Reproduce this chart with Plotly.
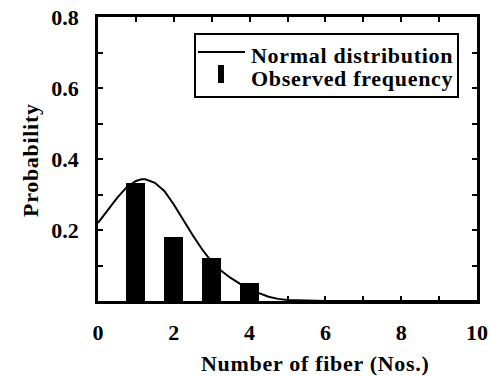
import plotly.graph_objects as go

# Observed frequency (bars)
bar_x = [1, 2, 3, 4]
bar_y = [0.333, 0.179, 0.120, 0.050]

# Normal distribution curve
curve_x = [0, 0.25, 0.5, 0.75, 1.0, 1.15, 1.25, 1.5, 1.75, 2.0, 2.25, 2.5, 2.75,
           3.0, 3.25, 3.5, 3.75, 4.0, 4.25, 4.5, 4.75, 5.0, 5.5, 6.0, 7.0, 8.0, 9.0, 10.0]
curve_y = [0.220, 0.255, 0.290, 0.320, 0.338, 0.343, 0.343, 0.333, 0.310, 0.272, 0.228,
           0.185, 0.145, 0.110, 0.085, 0.065, 0.048, 0.034, 0.022, 0.012, 0.006, 0.003,
           0.001, 0.0, 0.0, 0.0, 0.0, 0.0]

x_ticks = [0, 2, 4, 6, 8, 10]
y_ticks = [0.2, 0.4, 0.6, 0.8]

legend_names = ["Normal distribution", "Observed frequency"]
x_title = "Number of fiber (Nos.)"
y_title = "Probability"

FONT = "Liberation Serif"


def spaced(t, px=0.7):
    return f'<span style="letter-spacing:{px}px">{t}</span>'


fig = go.Figure()
fig.add_trace(go.Bar(x=bar_x, y=bar_y, width=0.5, marker=dict(color="black", line=dict(width=0)),
                     name=legend_names[1], showlegend=False))
fig.add_trace(go.Scatter(x=curve_x, y=curve_y, mode="lines", line=dict(color="black", width=2),
                         name=legend_names[0], showlegend=False))

axis_common = dict(showgrid=False, zeroline=False, showline=True, linecolor="black", linewidth=2.5,
                   mirror="allticks", ticks="inside", ticklen=5, tickwidth=2, tickcolor="black",
                   automargin=False,
                   tickfont=dict(family=FONT, size=22, color="black", weight="bold"))

fig.update_xaxes(range=[0, 10], tickvals=x_ticks, ticktext=[str(v) for v in x_ticks],
                 minor=dict(dtick=1, ticks="inside", ticklen=5, tickwidth=2, tickcolor="black"),
                 ticklabelstandoff=10, **axis_common)
fig.update_yaxes(range=[0, 0.8], tickvals=y_ticks, ticktext=[f"{v:.1f}" for v in y_ticks],
                 minor=dict(dtick=0.1, ticks="inside", ticklen=5, tickwidth=2, tickcolor="black"),
                 ticklabelstandoff=12, **axis_common)

# Legend drawn manually to match the thin-bar symbol
W, H = 379, 284
shapes = [
    dict(type="rect", xref="paper", yref="paper", x0=(195-98)/W, x1=(458-98)/W,
         y0=(301-97)/H, y1=(301-34)/H, line=dict(color="black", width=2)),
    dict(type="line", xref="paper", yref="paper", x0=(198-98)/W, x1=(245-98)/W,
         y0=(301-52)/H, y1=(301-52)/H, line=dict(color="black", width=2)),
    dict(type="rect", xref="paper", yref="paper", x0=(218-98)/W, x1=(224-98)/W,
         y0=(301-83)/H, y1=(301-65)/H, line=dict(width=0), fillcolor="black"),
]
tfont = dict(family=FONT, size=22, color="black", weight="bold")
annotations = [
    dict(text=spaced(legend_names[0]), xref="paper", yref="paper", x=(249-98)/W, y=(301-55)/H,
         xanchor="left", yanchor="middle", showarrow=False, font=tfont),
    dict(text=spaced(legend_names[1]), xref="paper", yref="paper", x=(249-98)/W, y=(301-78)/H,
         xanchor="left", yanchor="middle", showarrow=False, font=tfont),
    dict(text=spaced(x_title), xref="paper", yref="paper", x=(315-98)/W, y=-(363-301)/H,
         xanchor="center", yanchor="middle", showarrow=False, font=tfont),
    dict(text=spaced(y_title), xref="paper", yref="paper", x=-(98-30)/W, y=(301-160)/H, textangle=-90,
         xanchor="center", yanchor="middle", showarrow=False, font=tfont),
]

fig.update_layout(width=489, height=376, margin=dict(l=98, r=12, t=17, b=75),
                  paper_bgcolor="white", plot_bgcolor="white", showlegend=False,
                  shapes=shapes, annotations=annotations, bargap=0)

fig.write_html("out.html")
